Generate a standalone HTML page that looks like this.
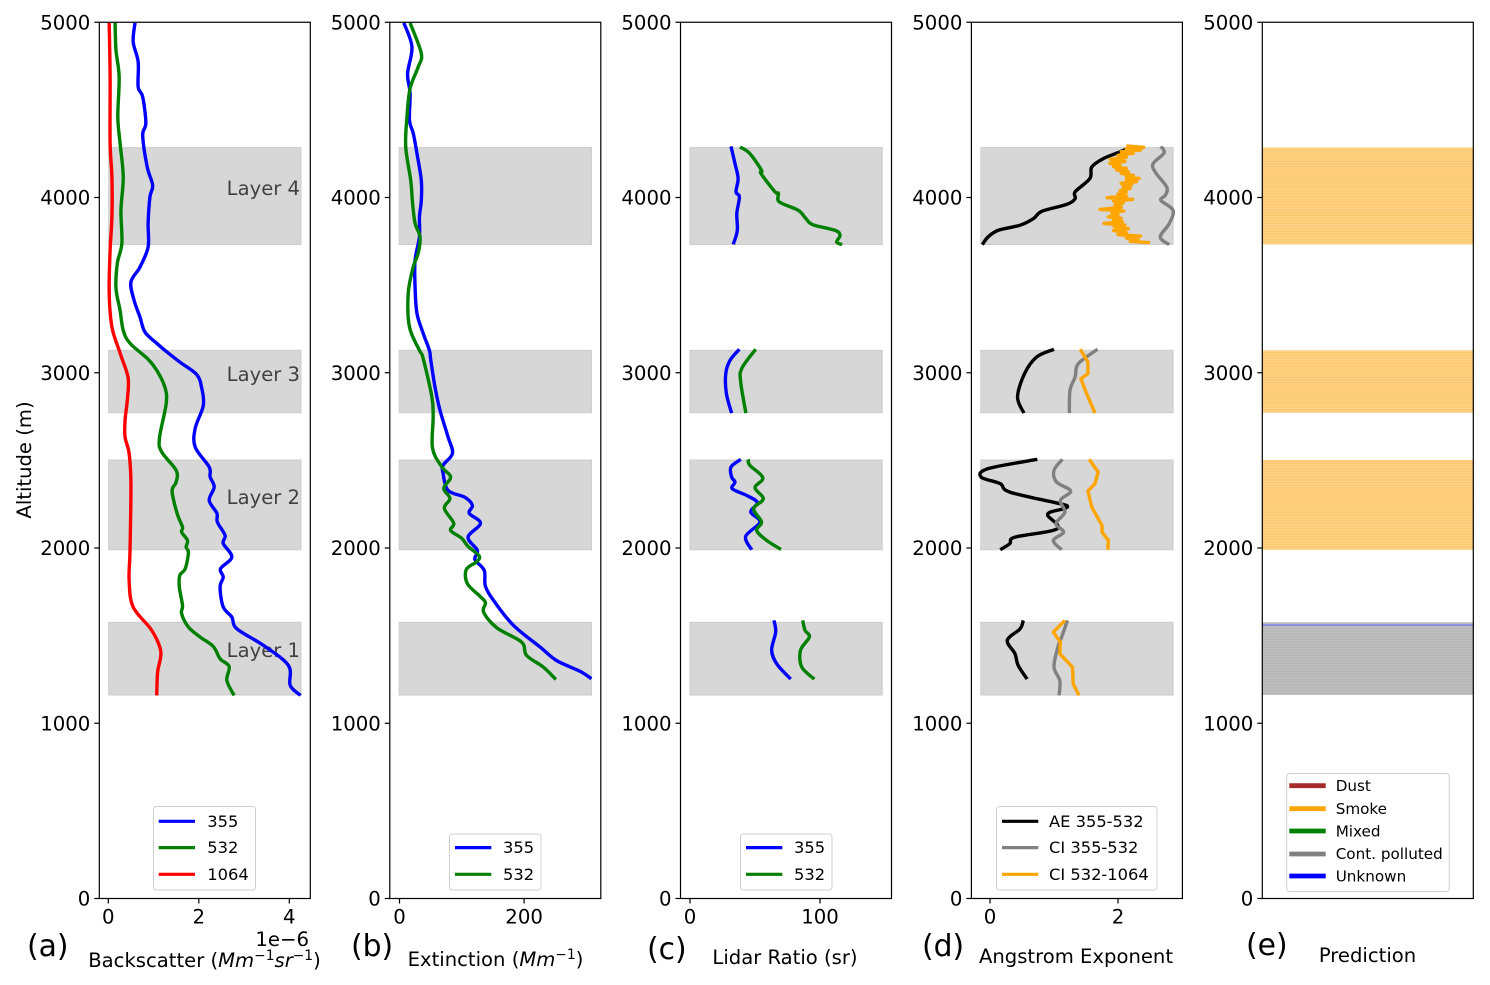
<!DOCTYPE html>
<html lang="en">
<head>
<meta charset="utf-8">
<title>Lidar aerosol profile panels</title>
<style>
html,body{margin:0;padding:0;background:#fff;}
svg{display:block;font-family:"DejaVu Sans","Liberation Sans",sans-serif;}
.tick{font-size:19.7px;fill:#000;}
.axt{font-size:19.6px;fill:#000;}
.pl{font-size:29.8px;fill:#000;}
.lay{font-size:19.6px;fill:#000;fill-opacity:.7;text-anchor:end;}
.leg{font-size:16.3px;fill:#000;}
.lege{font-size:15.2px;fill:#000;}
.lb{fill:#fff;fill-opacity:.8;stroke:#d0d0d0;stroke-width:1;}
</style>
</head>
<body>
<svg id="figure" width="1490" height="985" viewBox="0 0 1490 985">
<defs>
<pattern id="stripe-smoke" patternUnits="userSpaceOnUse" width="10" height="2.7"><rect width="10" height="2.7" fill="#fdc970"/><rect width="10" height="1.1" fill="#fdd28a"/></pattern>
<pattern id="stripe-polluted" patternUnits="userSpaceOnUse" width="10" height="2.7"><rect width="10" height="2.7" fill="#b6b6b6"/><rect width="10" height="1.1" fill="#c2c2c2"/></pattern>
</defs>
<g id="layer-bands"></g>
<g id="prediction-bands"></g>
<g>
<text class="lay" x="300" y="195">Layer 4</text>
<text class="lay" x="300" y="381">Layer 3</text>
<text class="lay" x="300" y="504">Layer 2</text>
<text class="lay" x="300" y="657">Layer 1</text>
</g>
<g id="series-lines"></g>
<g id="axes-frames"></g>

<text class="axt" x="31" y="460" text-anchor="middle" transform="rotate(-90 31 460)">Altitude (m)</text>
<text class="tick" x="309" y="946" text-anchor="end">1e−6</text>

<text class="axt" x="204.5" y="967" text-anchor="middle">Backscatter (<tspan font-style="italic">Mm</tspan><tspan font-size="13.8" dy="-7">−1</tspan><tspan font-style="italic" dy="7">sr</tspan><tspan font-size="13.8" dy="-7">−1</tspan><tspan dy="7">)</tspan></text>
<text class="axt" x="495.5" y="966" text-anchor="middle">Extinction (<tspan font-style="italic">Mm</tspan><tspan font-size="13.8" dy="-7">−1</tspan><tspan dy="7">)</tspan></text>
<text class="axt" x="785" y="964" text-anchor="middle">Lidar Ratio (sr)</text>
<text class="axt" x="1076" y="963" text-anchor="middle">Angstrom Exponent</text>
<text class="axt" x="1367.5" y="962" text-anchor="middle">Prediction</text>

<text class="pl" x="27" y="956">(a)</text>
<text class="pl" x="351" y="956">(b)</text>
<text class="pl" x="647" y="959">(c)</text>
<text class="pl" x="922" y="956">(d)</text>
<text class="pl" x="1246" y="955">(e)</text>

<g>
<rect class="lb" x="153.5" y="806.5" width="102" height="83.5" rx="3"/>
<line x1="158.7" x2="195" y1="821.3" y2="821.3" stroke="#0000ff" stroke-width="3.2"/>
<text class="leg" x="207.3" y="826.8">355</text>
<line x1="158.7" x2="195" y1="847.6" y2="847.6" stroke="#008000" stroke-width="3.2"/>
<text class="leg" x="207.3" y="853">532</text>
<line x1="158.7" x2="195" y1="874.3" y2="874.3" stroke="#ff0000" stroke-width="3.2"/>
<text class="leg" x="207.3" y="879.8">1064</text>
</g>
<g>
<rect class="lb" x="449.5" y="834" width="91.5" height="56" rx="3"/>
<line x1="455" x2="491.3" y1="847.6" y2="847.6" stroke="#0000ff" stroke-width="3.2"/>
<text class="leg" x="503" y="853">355</text>
<line x1="455" x2="491.3" y1="874.3" y2="874.3" stroke="#008000" stroke-width="3.2"/>
<text class="leg" x="503" y="879.8">532</text>
</g>
<g>
<rect class="lb" x="740.5" y="834" width="91.5" height="56" rx="3"/>
<line x1="746" x2="782.3" y1="847.6" y2="847.6" stroke="#0000ff" stroke-width="3.2"/>
<text class="leg" x="794" y="853">355</text>
<line x1="746" x2="782.3" y1="874.3" y2="874.3" stroke="#008000" stroke-width="3.2"/>
<text class="leg" x="794" y="879.8">532</text>
</g>
<g>
<rect class="lb" x="996.5" y="806.5" width="160.5" height="83.5" rx="3"/>
<line x1="1002" x2="1038.3" y1="821.3" y2="821.3" stroke="#000000" stroke-width="3.2"/>
<text class="leg" x="1049" y="826.8">AE 355-532</text>
<line x1="1002" x2="1038.3" y1="847.6" y2="847.6" stroke="#808080" stroke-width="3.2"/>
<text class="leg" x="1049" y="853">CI 355-532</text>
<line x1="1002" x2="1038.3" y1="874.3" y2="874.3" stroke="#ffa500" stroke-width="3.2"/>
<text class="leg" x="1049" y="879.8">CI 532-1064</text>
</g>
<g>
<rect class="lb" x="1286.7" y="773.5" width="162.6" height="118" rx="3"/>
<line x1="1289.3" x2="1325.7" y1="785.7" y2="785.7" stroke="#a52a2a" stroke-width="4.8"/>
<text class="lege" x="1335.7" y="791">Dust</text>
<line x1="1289.3" x2="1325.7" y1="808.7" y2="808.7" stroke="#ffa500" stroke-width="4.8"/>
<text class="lege" x="1335.7" y="814">Smoke</text>
<line x1="1289.3" x2="1325.7" y1="831" y2="831" stroke="#008000" stroke-width="4.8"/>
<text class="lege" x="1335.7" y="836.6">Mixed</text>
<line x1="1289.3" x2="1325.7" y1="854" y2="854" stroke="#808080" stroke-width="4.8"/>
<text class="lege" x="1335.7" y="859">Cont. polluted</text>
<line x1="1289.3" x2="1325.7" y1="876" y2="876" stroke="#0000ff" stroke-width="4.8"/>
<text class="lege" x="1335.7" y="881.5">Unknown</text>
</g>
</svg>
<script>
// ---- shared axis values ----
const altTicks = [0, 1000, 2000, 3000, 4000, 5000];
const layerBottoms = [1161, 1990, 2772, 3732];
const layerTops = [1576, 2502, 3128, 4285];

// ---- panel a: backscatter (x 1e-6) ----
const backscatterTicks = [0, 2, 4];
const bsc355Alt = [4996,4888,4774,4631,4574,4424,4355,4174,4070,4003,3853,3718,3603,3518,3413,3318,3232,3168,3128,3061,2991,2918,2814,2683,2576,2462,2405,2348,2272,2198,2148,2072,2026,1948,1882,1834,1777,1663,1606,1539,1444,1330,1216,1159];
const bsc355Val = [0.59,0.55,0.66,0.66,0.76,0.83,0.76,0.86,0.98,0.92,0.88,0.88,0.70,0.50,0.57,0.70,0.81,1.07,1.25,1.58,1.95,2.06,2.10,1.92,1.92,2.23,2.25,2.34,2.23,2.40,2.41,2.58,2.54,2.73,2.48,2.54,2.47,2.54,2.73,2.84,3.43,3.98,4.02,4.25];
const bsc532Alt = [4996,4840,4688,4460,4310,4117,3927,3739,3625,3482,3356,3242,3168,3077,3014,2918,2825,2626,2548,2443,2376,2325,2198,2119,2091,2043,2005,1973,1882,1844,1777,1672,1625,1549,1492,1438,1368,1324,1244,1159];
const bsc532Val = [0.15,0.17,0.24,0.21,0.26,0.33,0.28,0.30,0.20,0.17,0.26,0.33,0.48,0.88,1.07,1.25,1.28,1.13,1.18,1.50,1.50,1.41,1.52,1.64,1.62,1.75,1.72,1.77,1.70,1.58,1.57,1.64,1.62,1.77,2.03,2.32,2.47,2.67,2.62,2.78];
const bsc1064Alt = [4996,4688,4310,4117,3889,3699,3453,3261,3128,3082,2968,2843,2728,2633,2540,2369,1986,1815,1663,1530,1410,1292,1159];
const bsc1064Val = [0.02,0.04,0.04,0.08,0.08,0.04,0.02,0.08,0.24,0.30,0.44,0.42,0.37,0.37,0.46,0.50,0.48,0.46,0.55,0.96,1.16,1.09,1.07];

// ---- panel b: extinction ----
const extinctionTicks = [0, 200];
const ext355Alt = [4996,4859,4707,4593,4441,4367,4252,4098,3984,3889,3775,3642,3489,3339,3225,3128,3077,2918,2786,2633,2540,2472,2426,2329,2289,2243,2198,2141,2062,1986,1935,1872,1781,1691,1558,1434,1358,1296,1254];
const ext355Val = [7,20,13,17,16,22,28,35,35,32,32,25,25,28,38,48,50,57,65,78,85,70,70,78,105,117,112,130,110,125,121,136,138,153,183,226,252,290,308];
const ext532Alt = [4996,4822,4745,4622,4460,4288,4098,3967,3853,3775,3682,3603,3453,3261,3128,3082,2861,2747,2569,2462,2405,2340,2283,2226,2142,2100,2055,2009,1954,1920,1876,1796,1725,1688,1634,1545,1463,1387,1320,1250];
const ext532Val = [17,35,30,17,12,10,18,21,25,33,30,22,14,16,32,38,52,54,53,68,82,71,81,72,87,82,100,110,128,123,107,109,129,138,135,156,196,204,231,251];

// ---- panel c: lidar ratio (null separates layers) ----
const lidarTicks = [0, 100];
const lr355Alt = [4292,4194,4108,4032,4003,3908,3813,3733,null,3134,3071,2995,2881,2770,null,2506,2462,2405,2376,2338,2300,2259,2205,2148,2066,1990,null,1587,1520,1416,1336,1252];
const lr355Val = [31.5,34.6,37,35.4,38,36,36.4,33.3,null,38,30.8,27.5,28,32,null,39,31.5,32,34.6,32.5,43.6,51.8,46.7,53.8,42.8,47.5,null,64.6,65.9,62.8,67,77.5];
const lr532Alt = [4288,4251,4155,4137,4032,4024,3975,3927,3881,3845,3813,3784,3746,3731,null,3134,3024,2947,2770,null,2506,2472,2401,2344,2281,2224,2148,2100,2043,1992,null,1587,1530,1492,1416,1320,1252];
const lr532Val = [38.5,46,55,54.6,65.4,68,68.7,83.3,89,94.4,111.5,115.4,112.8,117,null,50.5,39.8,39,43,null,44.8,46,56,50,56.4,49,55,51.3,59,70,null,86.7,88.5,91.8,85,86,95.6];

// ---- panel d: Angstrom exponent (null separates layers) ----
const angstromTicks = [0, 2];
const ae355532Alt = [4292,4260,4222,4174,4108,4032,3994,3961,3921,3880,3842,3813,3775,3731,null,3134,3090,2995,2861,2770,null,2506,2453,2405,2367,2319,2253,2238,2224,2192,2110,2062,2025,1990,null,1587,1539,1473,1397,1330,1252];
const ae355532Val = [2.23,2.03,1.77,1.59,1.56,1.33,1.33,1.20,0.81,0.68,0.47,0.13,-0.03,-0.12,null,1.00,0.73,0.54,0.43,0.53,null,0.74,-0.03,-0.14,0.16,0.31,1.09,1.21,1.15,0.90,1.05,0.39,0.31,0.16,null,0.52,0.47,0.27,0.39,0.44,0.58];
const ci355532Alt = [4292,4254,4194,4146,4060,4013,3984,3927,3851,3775,3731,null,3134,3052,2976,2900,2770,null,2506,2443,2376,2325,2272,2205,2139,2091,2043,1990,null,1587,1492,1434,1320,1244,1159];
const ci355532Val = [2.67,2.72,2.55,2.58,2.76,2.74,2.67,2.86,2.80,2.66,2.80,null,1.68,1.38,1.33,1.25,1.24,null,1.13,1.00,1.04,1.26,1.10,1.17,1.03,1.15,0.99,1.12,null,1.21,1.12,1.06,1.00,1.09,1.08];
const ci5321064Alt = [4294,4286,4279,4271,4261,4252,4241,4229,4218,4206,4195,4185,4176,4166,4157,4147,4138,4126,4119,4109,4100,4090,4081,4071,4062,4052,4039,4029,4020,4008,3999,3989,3978,3967,3955,3944,3932,3923,3913,3902,3890,3881,3871,3862,3852,3843,3834,3822,3811,3799,3788,3780,3769,3757,3750,3742,null,3134,3061,2995,2966,2881,2770,null,2506,2433,2367,2325,2234,2129,2091,2043,1990,null,1587,1520,1463,1397,1320,1225,1159];
const ci5321064Val = [2.13,2.40,2.13,2.35,2.05,2.24,2.00,2.13,1.88,2.11,1.87,2.03,1.93,2.13,1.98,2.16,2.05,2.24,2.13,2.33,2.13,2.29,2.05,2.21,2.08,2.19,2.03,2.13,2.00,2.13,1.83,2.23,1.93,2.08,1.95,2.05,1.72,2.09,1.90,2.00,1.85,2.05,1.93,2.07,1.78,2.11,1.94,2.16,1.93,2.13,2.00,2.35,2.13,2.32,2.19,2.50,null,1.41,1.53,1.53,1.42,1.51,1.64,null,1.55,1.69,1.64,1.53,1.59,1.75,1.75,1.85,1.84,null,1.17,0.99,1.10,1.09,1.29,1.30,1.39];

// ---- panel e: predicted classes ----
const predBottoms = [1161, 1990, 2772, 3732];
const predTops = [1576, 2502, 3128, 4285];
const predClasses = ['polluted', 'smoke', 'smoke', 'smoke'];
const unknownAlts = [1560];

// ---- axis functions ----
const altY = a => 898.5 - a * 0.17525;
const bscX = v => 108.3 + v * 45.25;
const extX = v => 399.5 + v * 0.623;
const lrX = v => 690 + v * 1.3;
const aeX = v => 990 + v * 64;

const panelWidth = 211;
const svgNS = 'http://www.w3.org/2000/svg';
const bandGroup = document.getElementById('layer-bands');
const predGroup = document.getElementById('prediction-bands');
const lineGroup = document.getElementById('series-lines');
const axesGroup = document.getElementById('axes-frames');

function mk(tag, parent) {
  const el = document.createElementNS(svgNS, tag);
  parent.appendChild(el);
  return el;
}

// Build a path through the points of one contiguous run.
function runPath(pts, smooth) {
  let d = 'M' + pts[0][0].toFixed(2) + ' ' + pts[0][1].toFixed(2);
  for (let i = 1; i < pts.length; i++) {
    if (!smooth) {
      d += 'L' + pts[i][0].toFixed(2) + ' ' + pts[i][1].toFixed(2);
      continue;
    }
    const p0 = pts[Math.max(i - 2, 0)], p1 = pts[i - 1], p2 = pts[i], p3 = pts[Math.min(i + 1, pts.length - 1)];
    const c1x = p1[0] + (p2[0] - p0[0]) / 6, c1y = p1[1] + (p2[1] - p0[1]) / 6;
    const c2x = p2[0] - (p3[0] - p1[0]) / 6, c2y = p2[1] - (p3[1] - p1[1]) / 6;
    d += 'C' + c1x.toFixed(2) + ' ' + c1y.toFixed(2) + ' ' + c2x.toFixed(2) + ' ' + c2y.toFixed(2) + ' ' + p2[0].toFixed(2) + ' ' + p2[1].toFixed(2);
  }
  return d;
}

function drawSeries(alts, vals, xFn, color, width, smooth) {
  let d = '';
  let run = [];
  for (let i = 0; i < alts.length; i++) {
    if (alts[i] === null || vals[i] === null) {
      if (run.length) d += runPath(run, smooth);
      run = [];
      continue;
    }
    run.push([xFn(vals[i]), altY(alts[i])]);
  }
  if (run.length) d += runPath(run, smooth);
  const el = mk('path', lineGroup);
  
  
  el.setAttribute('d', d);
  el.setAttribute('fill', 'none');
  el.setAttribute('stroke', color);
  el.setAttribute('stroke-width', width);
  el.setAttribute('stroke-linejoin', 'round');
  el.setAttribute('stroke-linecap', 'butt');
}

function drawBands(left) {
  for (let i = 0; i < layerBottoms.length; i++) {
    const r = mk('rect', bandGroup);
    
    
    r.setAttribute('x', left + 0.0445 * panelWidth);
    r.setAttribute('width', 0.9115 * panelWidth);
    r.setAttribute('y', altY(layerTops[i]));
    r.setAttribute('height', altY(layerBottoms[i]) - altY(layerTops[i]));
    r.setAttribute('fill', '#d7d7d7');
    r.setAttribute('stroke', '#cdcdcd');
    r.setAttribute('stroke-width', '1');
  }
}

function drawAxes(left, xTicks, xFn) {
  const frame = mk('rect', axesGroup);
  
  
  frame.setAttribute('x', left);
  frame.setAttribute('y', altY(5000));
  frame.setAttribute('width', panelWidth);
  frame.setAttribute('height', altY(0) - altY(5000));
  frame.setAttribute('fill', 'none');
  frame.setAttribute('stroke', '#000');
  frame.setAttribute('stroke-width', '1.2');
  for (const a of altTicks) {
    const t = mk('line', axesGroup);
    
    
    t.setAttribute('x1', left - 5);
    t.setAttribute('x2', left);
    t.setAttribute('y1', altY(a));
    t.setAttribute('y2', altY(a));
    t.setAttribute('stroke', '#000');
    t.setAttribute('stroke-width', '1.2');
    const l = mk('text', axesGroup);
    
    
    l.setAttribute('class', 'tick');
    l.setAttribute('x', left - 9);
    l.setAttribute('y', altY(a) + 7);
    l.setAttribute('text-anchor', 'end');
    l.textContent = String(a);
  }
  for (const v of xTicks) {
    const t = mk('line', axesGroup);
    
    
    t.setAttribute('x1', xFn(v));
    t.setAttribute('x2', xFn(v));
    t.setAttribute('y1', altY(0));
    t.setAttribute('y2', altY(0) + 5);
    t.setAttribute('stroke', '#000');
    t.setAttribute('stroke-width', '1.2');
    const l = mk('text', axesGroup);
    
    
    l.setAttribute('class', 'tick');
    l.setAttribute('x', xFn(v));
    l.setAttribute('y', 923.5);
    l.setAttribute('text-anchor', 'middle');
    l.textContent = String(v);
  }
}

const leftA = 99.3, leftB = 389.8, leftC = 680.5, leftD = 971.4, leftE = 1262.3;
const LW = 3.4;

drawBands(leftA);
drawBands(leftB);
drawBands(leftC);
drawBands(leftD);

drawSeries(bsc355Alt, bsc355Val, bscX, '#0000ff', LW, true);
drawSeries(bsc532Alt, bsc532Val, bscX, '#008000', LW, true);
drawSeries(bsc1064Alt, bsc1064Val, bscX, '#ff0000', LW, true);

drawSeries(ext355Alt, ext355Val, extX, '#0000ff', LW, true);
drawSeries(ext532Alt, ext532Val, extX, '#008000', LW, true);

drawSeries(lr355Alt, lr355Val, lrX, '#0000ff', LW, true);
drawSeries(lr532Alt, lr532Val, lrX, '#008000', LW, true);

drawSeries(ae355532Alt, ae355532Val, aeX, '#000000', LW, true);
drawSeries(ci355532Alt, ci355532Val, aeX, '#808080', LW, true);
drawSeries(ci5321064Alt, ci5321064Val, aeX, '#ffa500', LW, false);

for (let i = 0; i < predBottoms.length; i++) {
  const r = mk('rect', predGroup);
  
  
  r.setAttribute('x', leftE);
  r.setAttribute('width', panelWidth);
  r.setAttribute('y', altY(predTops[i]));
  r.setAttribute('height', altY(predBottoms[i]) - altY(predTops[i]));
  r.setAttribute('fill', predClasses[i] === 'smoke' ? 'url(#stripe-smoke)' : 'url(#stripe-polluted)');
}
for (const a of unknownAlts) {
  const u = mk('line', predGroup);
  
  
  u.setAttribute('x1', leftE);
  u.setAttribute('x2', leftE + panelWidth);
  u.setAttribute('y1', altY(a));
  u.setAttribute('y2', altY(a));
  u.setAttribute('stroke', '#7d7df0');
  u.setAttribute('stroke-width', '1.4');
}

drawAxes(leftA, backscatterTicks, bscX);
drawAxes(leftB, extinctionTicks, extX);
drawAxes(leftC, lidarTicks, lrX);
drawAxes(leftD, angstromTicks, aeX);
drawAxes(leftE, [], bscX);
</script>
</body>
</html>
